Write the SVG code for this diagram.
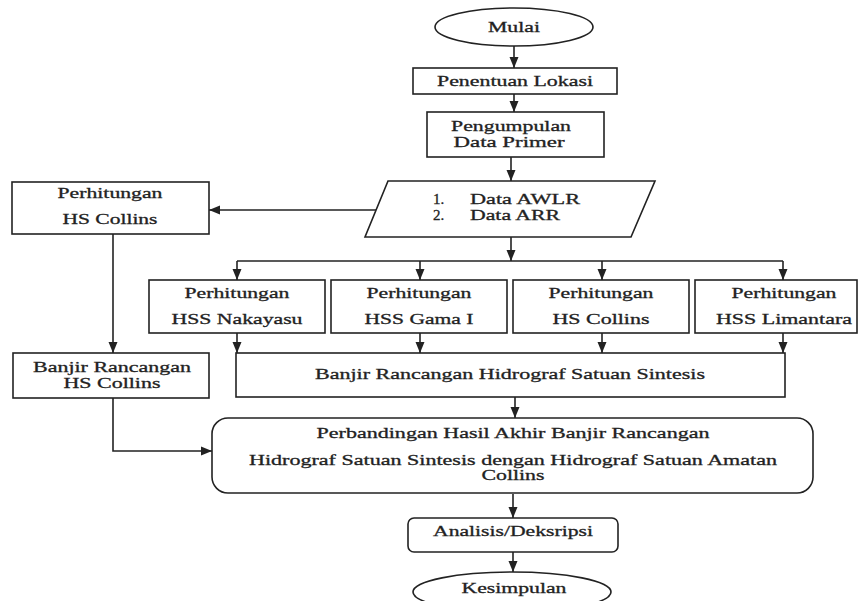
<svg xmlns="http://www.w3.org/2000/svg" width="860" height="601" viewBox="0 0 860 601">
<style>
.s{fill:#fff;stroke:#222;stroke-width:1.6}
.t{font-family:"Liberation Serif","Times New Roman",serif;font-size:15px;fill:#222;stroke:#222;stroke-width:0.3;text-anchor:middle}
.tl{font-family:"Liberation Serif","Times New Roman",serif;font-size:15px;fill:#222;stroke:#222;stroke-width:0.3}
.c{fill:none;stroke:#222;stroke-width:1.6}
</style>
<defs>
<marker id="ah" markerUnits="userSpaceOnUse" markerWidth="12" markerHeight="12" viewBox="0 0 12 12" refX="11" refY="6" orient="auto">
<path d="M0,1.5 L11,6 L0,10.5 Z" fill="#222"/>
</marker>
</defs>
<rect width="860" height="601" fill="#fff"/>
<g id="connectors">
<line class="c" x1="514" y1="46" x2="514" y2="68" marker-end="url(#ah)"/>
<line class="c" x1="514" y1="94" x2="514" y2="112" marker-end="url(#ah)"/>
<line class="c" x1="511" y1="157" x2="511" y2="181" marker-end="url(#ah)"/>
<line class="c" x1="376" y1="210" x2="209" y2="210" marker-end="url(#ah)"/>
<line class="c" x1="511" y1="237" x2="511" y2="261" marker-end="url(#ah)"/>
<polyline class="c" points="237,261 783,261"/>
<line class="c" x1="237" y1="261" x2="237" y2="280" marker-end="url(#ah)"/>
<line class="c" x1="420" y1="261" x2="420" y2="280" marker-end="url(#ah)"/>
<line class="c" x1="602" y1="261" x2="602" y2="280" marker-end="url(#ah)"/>
<line class="c" x1="783" y1="261" x2="783" y2="280" marker-end="url(#ah)"/>
<line class="c" x1="113" y1="234" x2="113" y2="353" marker-end="url(#ah)"/>
<line class="c" x1="237" y1="333" x2="237" y2="353" marker-end="url(#ah)"/>
<line class="c" x1="420" y1="333" x2="420" y2="353" marker-end="url(#ah)"/>
<line class="c" x1="602" y1="333" x2="602" y2="353" marker-end="url(#ah)"/>
<line class="c" x1="783" y1="333" x2="783" y2="353" marker-end="url(#ah)"/>
<line class="c" x1="515" y1="397" x2="515" y2="418" marker-end="url(#ah)"/>
<polyline class="c" points="113,398 113,451 212,451" marker-end="url(#ah)"/>
<line class="c" x1="513" y1="494" x2="513" y2="518" marker-end="url(#ah)"/>
<line class="c" x1="513" y1="552" x2="513" y2="572" marker-end="url(#ah)"/>
</g>
<g id="mulai">
<ellipse class="s" cx="514" cy="27" rx="79" ry="19"/>
<text class="t" x="514" y="32" textLength="52" lengthAdjust="spacingAndGlyphs">Mulai</text>
</g>
<g id="penentuan">
<rect class="s" x="413" y="68" width="204" height="26"/>
<text class="t" x="515" y="86" textLength="156" lengthAdjust="spacingAndGlyphs">Penentuan Lokasi</text>
</g>
<g id="pengumpulan">
<rect class="s" x="427" y="112" width="177" height="45"/>
<text class="t" x="511" y="131" textLength="120" lengthAdjust="spacingAndGlyphs">Pengumpulan</text>
<text class="t" x="509" y="147" textLength="111" lengthAdjust="spacingAndGlyphs">Data Primer</text>
</g>
<g id="data">
<polygon class="s" points="388,181 655,181 631,237 365,237"/>
<text class="tl" x="433" y="204">1.</text>
<text class="tl" x="470" y="204" textLength="110" lengthAdjust="spacingAndGlyphs">Data AWLR</text>
<text class="tl" x="433" y="220">2.</text>
<text class="tl" x="470" y="220" textLength="90" lengthAdjust="spacingAndGlyphs">Data ARR</text>
</g>
<g id="hs-collins-left">
<rect class="s" x="12" y="182" width="197" height="52"/>
<text class="t" x="110" y="198" textLength="105" lengthAdjust="spacingAndGlyphs">Perhitungan</text>
<text class="t" x="110" y="224" textLength="95" lengthAdjust="spacingAndGlyphs">HS Collins</text>
</g>
<g id="nakayasu">
<rect class="s" x="149" y="280" width="176" height="53"/>
<text class="t" x="237" y="298" textLength="105" lengthAdjust="spacingAndGlyphs">Perhitungan</text>
<text class="t" x="237" y="324" textLength="131" lengthAdjust="spacingAndGlyphs">HSS Nakayasu</text>
</g>
<g id="gama">
<rect class="s" x="331" y="280" width="176" height="53"/>
<text class="t" x="419" y="298" textLength="105" lengthAdjust="spacingAndGlyphs">Perhitungan</text>
<text class="t" x="419" y="324" textLength="109" lengthAdjust="spacingAndGlyphs">HSS Gama I</text>
</g>
<g id="collins">
<rect class="s" x="513" y="280" width="176" height="53"/>
<text class="t" x="601" y="298" textLength="105" lengthAdjust="spacingAndGlyphs">Perhitungan</text>
<text class="t" x="601" y="324" textLength="97" lengthAdjust="spacingAndGlyphs">HS Collins</text>
</g>
<g id="limantara">
<rect class="s" x="695" y="280" width="162" height="53"/>
<text class="t" x="784" y="298" textLength="105" lengthAdjust="spacingAndGlyphs">Perhitungan</text>
<text class="t" x="784" y="324" textLength="136" lengthAdjust="spacingAndGlyphs">HSS Limantara</text>
</g>
<g id="banjir-collins">
<rect class="s" x="13" y="353" width="196" height="45"/>
<text class="t" x="112" y="372" textLength="158" lengthAdjust="spacingAndGlyphs">Banjir Rancangan</text>
<text class="t" x="112" y="388" textLength="97" lengthAdjust="spacingAndGlyphs">HS Collins</text>
</g>
<g id="banjir-sintesis">
<rect class="s" x="236" y="353" width="549" height="44"/>
<text class="t" x="510" y="379" textLength="390" lengthAdjust="spacingAndGlyphs">Banjir Rancangan Hidrograf Satuan Sintesis</text>
</g>
<g id="perbandingan">
<rect class="s" x="212" y="418" width="601" height="75" rx="16"/>
<text class="t" x="513" y="438" textLength="393" lengthAdjust="spacingAndGlyphs">Perbandingan Hasil Akhir Banjir Rancangan</text>
<text class="t" x="513" y="465" textLength="528" lengthAdjust="spacingAndGlyphs">Hidrograf Satuan Sintesis dengan Hidrograf Satuan Amatan</text>
<text class="t" x="513" y="480" textLength="63" lengthAdjust="spacingAndGlyphs">Collins</text>
</g>
<g id="analisis">
<rect class="s" x="408" y="518" width="210" height="34" rx="6"/>
<text class="t" x="513" y="536" textLength="160" lengthAdjust="spacingAndGlyphs">Analisis/Deksripsi</text>
</g>
<g id="kesimpulan">
<ellipse class="s" cx="512" cy="592" rx="99" ry="20"/>
<text class="t" x="514" y="593" textLength="105" lengthAdjust="spacingAndGlyphs">Kesimpulan</text>
</g>
</svg>
